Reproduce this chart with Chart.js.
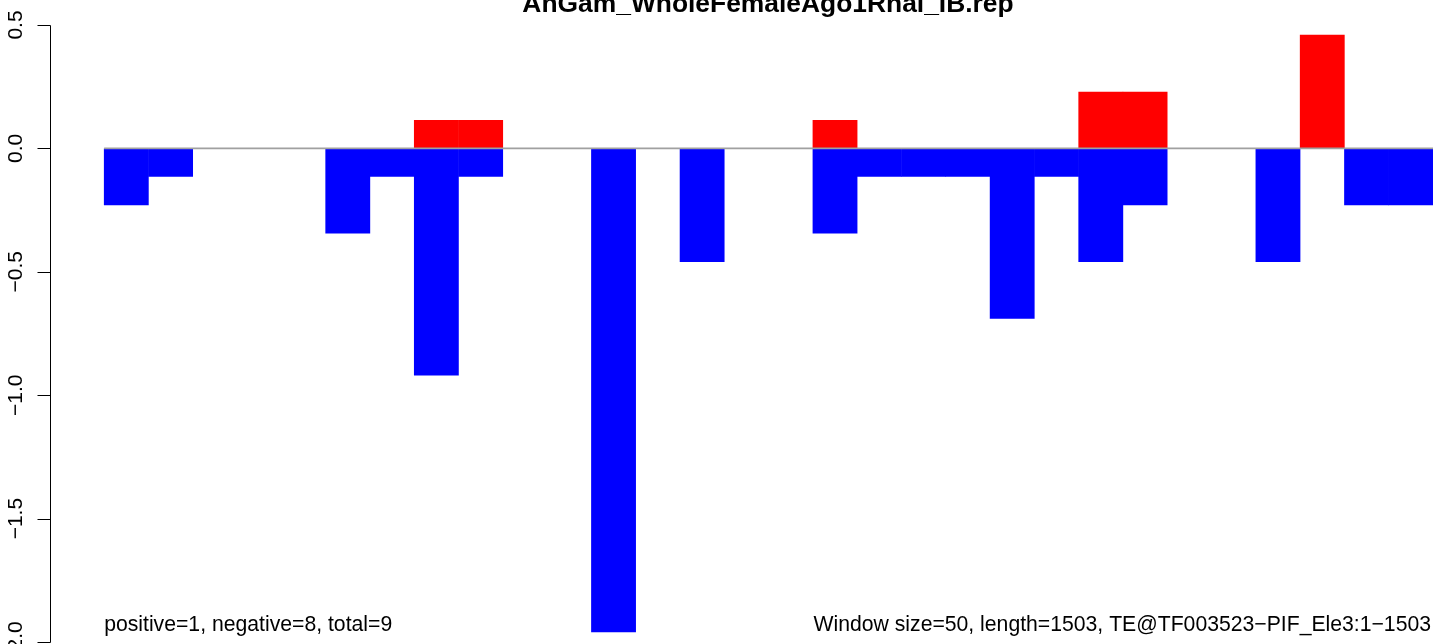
<!DOCTYPE html>
<html>
<head>
  <meta charset="UTF-8">
  <title>AnGam_WholeFemaleAgo1Rnai_IB.rep</title>
  <script src="https://cdn.jsdelivr.net/npm/chart.js"></script>
  <style>
    html, body {
      margin: 0;
      padding: 0;
      background: #ffffff;
      overflow: hidden;
    }
    #wrap {
      width: 1433px;
      height: 644px;
    }
  </style>
</head>
<body>
  <div id="wrap">
    <canvas id="repChart" width="1433" height="644"></canvas>
  </div>

  <script>
    // window start positions along the element (window size 50)
    const windowStarts = [
      0, 50, 100, 150, 200, 250, 300, 350, 400, 450,
      500, 550, 600, 650, 700, 750, 800, 850, 900, 950,
      1000, 1050, 1100, 1150, 1200, 1250, 1300, 1350, 1400, 1450
    ];
    // red bars (positive strand hits)
    const positiveValues = [
      0, 0, 0, 0, 0, 0, 0, 0.115, 0.115, 0,
      0, 0, 0, 0, 0, 0, 0.115, 0, 0, 0,
      0, 0, 0.23, 0.23, 0, 0, 0, 0.46, 0, 0
    ];
    // blue bars (negative strand hits)
    const negativeValues = [
      -0.23, -0.115, 0, 0, 0, -0.345, -0.115, -0.92, -0.115, 0,
      0, -1.96, 0, -0.46, 0, 0, -0.345, -0.115, -0.115, -0.115,
      -0.69, -0.115, -0.46, -0.23, 0, 0, -0.46, 0, -0.23, -0.23
    ];
    const yTicks = [0.5, 0, -0.5, -1, -1.5, -2];
    const yTickLabels = ['0.5', '0.0', '\u22120.5', '\u22121.0', '\u22121.5', '\u22122.0'];

    const windowSize = 50;
    const seqLength = 1503;
    const titleText = 'AnGam_WholeFemaleAgo1Rnai_IB.rep';
    const leftNote = 'positive=1, negative=8, total=9';
    const rightNote = 'Window size=50, length=1503, TE@TF003523\u2212PIF_Ele3:1\u22121503';

    const toPoints = vals => vals.map((v, i) => ({ x: windowStarts[i] + windowSize / 2, y: v }));

    // R style axis, title and margin texts
    const rDecor = {
      id: 'rDecor',
      afterDraw(chart) {
        const ctx = chart.ctx;
        const yScale = chart.scales.y;
        const axisX = 50.5;

        ctx.save();
        ctx.strokeStyle = '#000';
        ctx.lineWidth = 1;
        ctx.beginPath();
        ctx.moveTo(axisX, Math.round(yScale.getPixelForValue(yTicks[0])) + 0.5);
        ctx.lineTo(axisX, Math.round(yScale.getPixelForValue(yTicks[yTicks.length - 1])) + 0.5);
        yTicks.forEach(t => {
          const py = Math.round(yScale.getPixelForValue(t)) + 0.5;
          ctx.moveTo(axisX, py);
          ctx.lineTo(axisX - 13, py);
        });
        ctx.stroke();

        ctx.fillStyle = '#000';
        ctx.font = '21px "Liberation Sans", Arial, sans-serif';
        ctx.textAlign = 'center';
        ctx.textBaseline = 'alphabetic';
        yTicks.forEach((t, i) => {
          const py = yScale.getPixelForValue(t);
          ctx.save();
          ctx.translate(22, py);
          ctx.rotate(-Math.PI / 2);
          ctx.fillText(yTickLabels[i], 0, 0);
          ctx.restore();
        });

        // title, centred on the full plot region
        ctx.font = 'bold 26.4px "Liberation Sans", Arial, sans-serif';
        ctx.fillText(titleText, 768, 12);

        ctx.font = '21.2px "Liberation Sans", Arial, sans-serif';
        ctx.textAlign = 'left';
        ctx.fillText(leftNote, chart.scales.x.getPixelForValue(0), 631);
        ctx.textAlign = 'right';
        ctx.fillText(rightNote, 1431, 631);
        ctx.restore();
      }
    };

    const ctx = document.getElementById('repChart').getContext('2d');
    new Chart(ctx, {
      type: 'bar',
      data: {
        datasets: [
          {
            type: 'line',
            data: [{ x: 0, y: 0 }, { x: seqLength, y: 0 }],
            borderColor: '#a0a0a0',
            borderWidth: 1.6,
            pointRadius: 0,
            order: 0
          },
          {
            data: toPoints(positiveValues),
            backgroundColor: '#ff0000',
            borderWidth: 0,
            barPercentage: 1.012,
            categoryPercentage: 1,
            grouped: false,
            order: 1
          },
          {
            data: toPoints(negativeValues),
            backgroundColor: '#0000ff',
            borderWidth: 0,
            barPercentage: 1.012,
            categoryPercentage: 1,
            grouped: false,
            order: 2
          }
        ]
      },
      options: {
        responsive: false,
        animation: false,
        layout: {
          padding: { left: 51, top: 25, right: 0, bottom: 2 }
        },
        scales: {
          x: {
            type: 'linear',
            min: -60,
            max: 1500,
            offset: false,
            display: false
          },
          y: {
            type: 'linear',
            min: -2,
            max: 0.5,
            beginAtZero: false,
            display: false
          }
        },
        plugins: {
          legend: { display: false },
          tooltip: { enabled: false }
        }
      },
      plugins: [rDecor]
    });
  </script>
</body>
</html>
